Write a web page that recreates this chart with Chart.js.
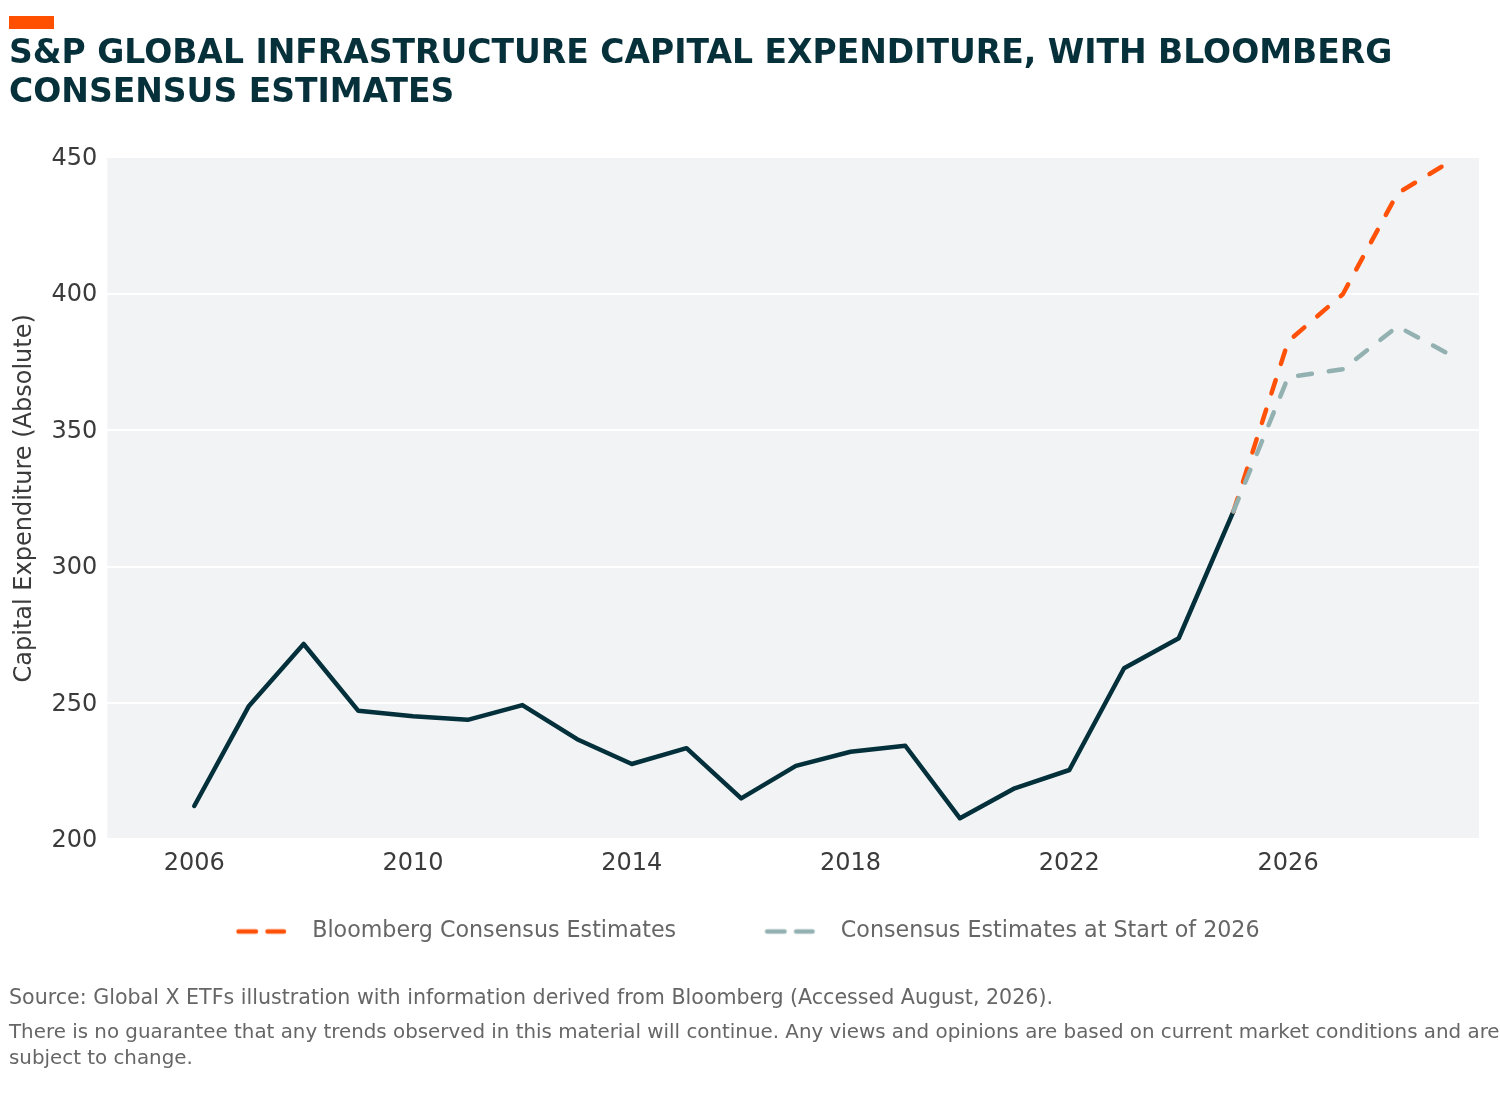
<!DOCTYPE html>
<html>
<head>
<meta charset="utf-8">
<title>S&amp;P Global Infrastructure Capital Expenditure</title>
<script src="https://cdn.jsdelivr.net/npm/chart.js@4.4.1/dist/chart.umd.min.js"></script>
<style>
  html, body { margin: 0; padding: 0; background: #fff; width: 1500px; height: 1095px; overflow: hidden; }
  body { position: relative; font-family: "DejaVu Sans", sans-serif; }
  #accent { position: absolute; left: 9px; top: 16px; width: 45px; height: 13px; background: #ff5000; z-index: 2; }
  #title { position: absolute; left: 9px; top: 32px; font-weight: bold; font-size: 33px; line-height: 39px; color: #06303a; white-space: nowrap; z-index: 2; }
  /* canvas is a bit wider than the page so the legend can be centred like the original */
  #chart { position: absolute; left: -40px; top: 0; }
  .note { position: absolute; left: 9px; line-height: 26px; color: #666; white-space: nowrap; z-index: 2; }
</style>
</head>
<body>
<div id="accent"></div>
<div id="title">S&amp;P GLOBAL INFRASTRUCTURE CAPITAL EXPENDITURE, WITH BLOOMBERG<br>CONSENSUS ESTIMATES</div>
<canvas id="chart" width="1540" height="1095"></canvas>
<div class="note" style="top:984px; font-size:20.6px">Source: Global X ETFs illustration with information derived from Bloomberg (Accessed August, 2026).</div>
<div class="note" style="top:1019px; font-size:19.85px">There is no guarantee that any trends observed in this material will continue. Any views and opinions are based on current market conditions and are<br>subject to change.</div>
<script>
// historical capex (absolute)
const years = [2006, 2007, 2008, 2009, 2010, 2011, 2012, 2013, 2014, 2015,
               2016, 2017, 2018, 2019, 2020, 2021, 2022, 2023, 2024, 2025];
const capex = [212.2, 248.9, 271.6, 247.1, 245.1, 243.8, 249.2, 236.7, 227.6, 233.4,
               215.0, 226.9, 232.1, 234.3, 207.7, 218.7, 225.4, 262.7, 273.7, 320.2];

// estimates
const estimateYears = [2025, 2026, 2027, 2028, 2029];
const bloombergEstimates = [320.2, 382.5, 399.8, 436.8, 448.9];
const startOf2026Estimates = [320.2, 369.4, 372.3, 388.0, 377.2];

const xTickValues = [2006, 2010, 2014, 2018, 2022, 2026];
const yTickValues = [200, 250, 300, 350, 400, 450];

const COLORS = {
    actual: '#03303a',
    bloomberg: '#ff5208',
    startOf2026: '#94b1b1',
    plotBg: '#f2f3f5',
    tick: '#3b3b3b',
    legend: '#666666'
};

Chart.defaults.font.family = "'DejaVu Sans', sans-serif";

function toPoints(xs, ys) {
    return xs.map((x, i) => ({ x: x, y: ys[i] }));
}

// dashed swatch used as the legend point style (left part is empty spacing)
const iconCache = {};
function dashIcon(color) {
    if (iconCache[color]) return iconCache[color];
    const c = document.createElement('canvas');
    c.width = 114;
    c.height = 10;
    const g = c.getContext('2d');
    g.strokeStyle = color;
    g.lineWidth = 4.5;
    g.lineCap = 'round';
    g.beginPath();
    g.moveTo(51.6, 5); g.lineTo(69.1, 5);
    g.moveTo(80.6, 5); g.lineTo(97.1, 5);
    g.stroke();
    iconCache[color] = c;
    return c;
}

const plotBackground = {
    id: 'plotBackground',
    beforeDraw(chart) {
        const { ctx, chartArea: a } = chart;
        ctx.save();
        ctx.fillStyle = COLORS.plotBg;
        ctx.fillRect(a.left, a.top, a.right - a.left, a.bottom - a.top);
        ctx.restore();
    }
};

const lineStyle = {
    borderWidth: 4.5,
    pointRadius: 0,
    pointHoverRadius: 0,
    tension: 0,
    borderCapStyle: 'round',
    borderJoinStyle: 'round',
    fill: false
};

new Chart(document.getElementById('chart').getContext('2d'), {
    type: 'line',
    data: {
        datasets: [
            Object.assign({
                label: '',
                data: toPoints(years, capex),
                borderColor: COLORS.actual,
                order: 2
            }, lineStyle),
            Object.assign({
                label: 'Bloomberg Consensus Estimates',
                data: toPoints(estimateYears, bloombergEstimates),
                borderColor: COLORS.bloomberg,
                borderDash: [14, 17],
                order: 1
            }, lineStyle),
            Object.assign({
                label: 'Consensus Estimates at Start of 2026',
                data: toPoints(estimateYears, startOf2026Estimates),
                borderColor: COLORS.startOf2026,
                borderDash: [14, 17],
                order: 0
            }, lineStyle)
        ]
    },
    options: {
        responsive: false,
        animation: false,
        events: [],
        layout: {
            padding: { top: 157.3, right: 21, bottom: 142.4, left: 7.2 }
        },
        scales: {
            x: {
                type: 'linear',
                min: 2004.41,
                max: 2029.49,
                grid: { display: false, drawTicks: false },
                border: { display: false },
                afterBuildTicks: axis => { axis.ticks = xTickValues.map(v => ({ value: v })); },
                afterFit: axis => { axis.height = 42; },
                ticks: {
                    padding: 10.5,
                    color: COLORS.tick,
                    font: { size: 24 },
                    maxRotation: 0,
                    autoSkip: false,
                    callback: v => String(v)
                }
            },
            y: {
                min: 200,
                max: 450,
                afterBuildTicks: axis => { axis.ticks = yTickValues.map(v => ({ value: v })); },
                afterFit: axis => { axis.width = 140.1; },
                grid: { color: '#ffffff', lineWidth: 2, drawTicks: false },
                border: { display: false },
                ticks: {
                    padding: 10,
                    labelOffset: 1.5,
                    color: COLORS.tick,
                    font: { size: 24 },
                    callback: v => String(v)
                },
                title: {
                    display: true,
                    text: 'Capital Expenditure (Absolute)',
                    color: COLORS.tick,
                    font: { size: 24 },
                    padding: { top: 43.4, bottom: 0 }
                }
            }
        },
        plugins: {
            tooltip: { enabled: false },
            legend: {
                position: 'bottom',
                labels: {
                    usePointStyle: true,
                    pointStyleWidth: 114.5,
                    padding: 39.1,
                    color: COLORS.legend,
                    font: { size: 22.2 },
                    generateLabels: chart => chart.data.datasets
                        .map((ds, i) => ({
                            text: ds.label,
                            datasetIndex: i,
                            hidden: false,
                            pointStyle: dashIcon(ds.borderColor),
                            fillStyle: ds.borderColor,
                            strokeStyle: ds.borderColor,
                            lineWidth: 0,
                            fontColor: COLORS.legend
                        }))
                        .filter(item => item.text)
                }
            }
        }
    },
    plugins: [plotBackground]
});
</script>
</body>
</html>
